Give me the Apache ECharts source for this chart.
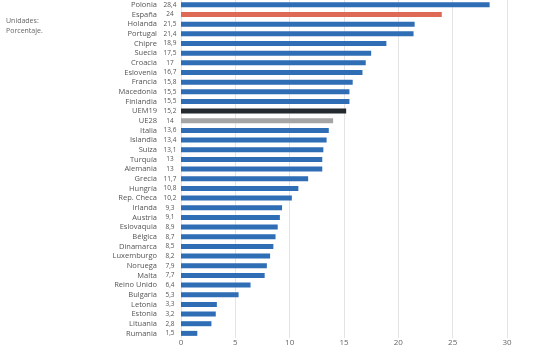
<!DOCTYPE html>
<html>
<head>
<meta charset="utf-8">
<script src="https://cdn.jsdelivr.net/npm/echarts@6/dist/echarts.min.js"></script>
<style>html,body{margin:0;padding:0;background:#fff}#c{width:537px;height:358px}</style>
</head>
<body>
<div id="c"></div>
<script>
const categories = ["Polonia","España","Holanda","Portugal","Chipre","Suecia","Croacia","Eslovenia","Francia","Macedonia","Finlandia","UEM19","UE28","Italia","Islandia","Suiza","Turquía","Alemania","Grecia","Hungría","Rep. Checa","Irlanda","Austria","Eslovaquia","Bélgica","Dinamarca","Luxemburgo","Noruega","Malta","Reino Unido","Bulgaria","Letonia","Estonia","Lituania","Rumania"];
const values = [28.4,24,21.5,21.4,18.9,17.5,17,16.7,15.8,15.5,15.5,15.2,14,13.6,13.4,13.1,13,13,11.7,10.8,10.2,9.3,9.1,8.9,8.7,8.5,8.2,7.9,7.7,6.4,5.3,3.3,3.2,2.8,1.5];
const xTicks = [0,5,10,15,20,25,30];
const highlight = {"España":"#de6a55","UEM19":"#23292e","UE28":"#a5a5a5"};
const baseColor = "#2f6db5";

const fmt = v => String(v).replace('.', ',');
const chart = echarts.init(document.getElementById('c'), null, {renderer:'canvas'});
chart.setOption({
  animation:false,
  textStyle:{fontFamily:'"Open Sans", "Noto Sans", sans-serif'},
  graphic:[{type:'text',left:6,top:16,style:{text:'Unidades:\nPorcentaje.',fill:'#666',font:'7px "Open Sans", sans-serif',lineHeight:10}}],
  grid:{left:181,right:30,top:-3.4,height:341.6,containLabel:false},
  xAxis:{type:'value',min:xTicks[0],max:xTicks[xTicks.length-1],interval:5,
    axisLine:{show:false},axisTick:{show:false},
    splitLine:{lineStyle:{color:'#e4e4e4',width:1}},
    axisLabel:{color:'#666',fontSize:8,margin:1,formatter:v=>xTicks.includes(v)?String(v):''}},
  yAxis:{type:'category',data:categories,inverse:true,
    axisLine:{show:false},axisTick:{show:false},
    axisLabel:{margin:4,interval:0,
      formatter:(n,i)=>'{n|'+n+'}{v|'+fmt(values[i])+'}',
      rich:{n:{color:'#555',fontSize:7.5,align:'right'},
            v:{color:'#555',fontSize:6.5,width:14,align:'center',padding:[0,0,0,6]}}}},
  series:[{type:'bar',barWidth:5,
    data:values.map((v,i)=>({value:v,itemStyle:{color:highlight[categories[i]]||baseColor}}))}]
});
</script>
</body>
</html>
